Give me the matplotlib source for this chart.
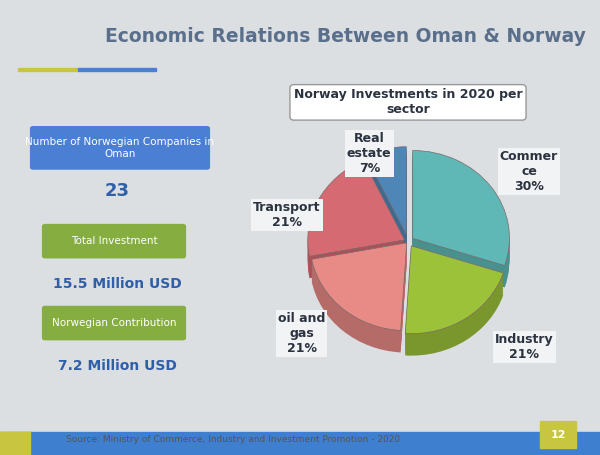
import numpy as np
import matplotlib.pyplot as plt
from matplotlib.patches import FancyBboxPatch, Rectangle
from matplotlib.colors import to_rgb

sectors = ['Commer\nce\n30%', 'Industry\n21%', 'oil and\ngas\n21%', 'Transport\n21%', 'Real\nestate\n7%']
shares = [30, 21, 21, 21, 7]
colors = ['#5fb8b6', '#9cc23a', '#e88a85', '#d66a72', '#4f86b8']
explode = [0.06, 0.06, 0.02, 0.04, 0.08]
label_pos = [(1.25, 0.8), (1.2, -1.2), (-1.1, -1.05), (-1.25, 0.3), (-0.4, 1.0)]

info_titles = ['Number of Norwegian Companies in\nOman', 'Total Investment', 'Norwegian Contribution']
info_values = ['23', '15.5 Million USD', '7.2 Million USD']
info_colors = ['#4a7fd4', '#86ad3f', '#86ad3f']

fig = plt.figure(figsize=(6, 4.55), dpi=100)
fig.patch.set_facecolor('#dcdfe2')

# title
fig.text(0.175, 0.92, 'Economic Relations Between Oman & Norway', fontsize=13.5,
         fontweight='bold', color='#5a6f8c', va='center')
fig.add_artist(Rectangle((0.03, 0.845), 0.1, 0.006, color='#c8c640', transform=fig.transFigure))
fig.add_artist(Rectangle((0.13, 0.845), 0.13, 0.006, color='#4a7fd4', transform=fig.transFigure))

# left info boxes
ys = [0.675, 0.47, 0.29]
for t, v, c, y in zip(info_titles, info_values, info_colors, ys):
    w = 0.29 if c == '#4a7fd4' else 0.23
    x0 = 0.055 if c == '#4a7fd4' else 0.075
    h = 0.085 if c == '#4a7fd4' else 0.065
    fig.add_artist(FancyBboxPatch((x0, y - h / 2), w, h, boxstyle='round,pad=0.004',
                                  color=c, transform=fig.transFigure))
    fig.text(x0 + w / 2, y, t, ha='center', va='center', color='white', fontsize=7.5)
    fig.text(0.195, y - 0.095, v, ha='center', va='center', color='#2f5fa8',
             fontsize=13 if v == '23' else 10, fontweight='bold')

# pie with fake depth
ax = fig.add_axes([0.43, 0.17, 0.5, 0.56])
dark = [tuple(np.array(to_rgb(c)) * 0.78) for c in colors]
for k in range(10, 0, -1):
    ax.pie(shares, colors=dark, explode=explode, startangle=90, counterclock=False,
           center=(0, -0.025 * k), wedgeprops=dict(linewidth=0))
ax.pie(shares, colors=colors, explode=explode, startangle=90, counterclock=False,
       wedgeprops=dict(edgecolor='#7a6a6a', linewidth=0.5))
for lab, (x, y) in zip(sectors, label_pos):
    ax.text(x, y, lab, ha='center', va='center', fontsize=9, fontweight='bold', color='#2c3340',
            bbox=dict(facecolor='#f2f3f4', edgecolor='none', pad=1.5))
ax.set_xlim(-1.55, 1.55)
ax.set_ylim(-1.55, 1.35)
ax.set_aspect('auto')
ax.axis('off')

fig.text(0.68, 0.775, 'Norway Investments in 2020 per\nsector', ha='center', va='center',
         fontsize=9, fontweight='bold', color='#2c3340',
         bbox=dict(facecolor='white', edgecolor='#999999', boxstyle='round,pad=0.3'))

# footer
fig.add_artist(Rectangle((0, 0.0), 1, 0.05, color='#3f7fcf', transform=fig.transFigure))
fig.add_artist(Rectangle((0, 0.0), 0.05, 0.05, color='#c8c640', transform=fig.transFigure))
fig.text(0.11, 0.035, 'Source: Ministry of Commerce, Industry and Investment Promotion - 2020',
         fontsize=6.5, color='#555555', va='center')
fig.add_artist(Rectangle((0.9, 0.015), 0.06, 0.06, color='#c8c640', transform=fig.transFigure))
fig.text(0.93, 0.045, '12', ha='center', va='center', fontsize=8, color='white', fontweight='bold')

fig.savefig('out.png', dpi=100)
